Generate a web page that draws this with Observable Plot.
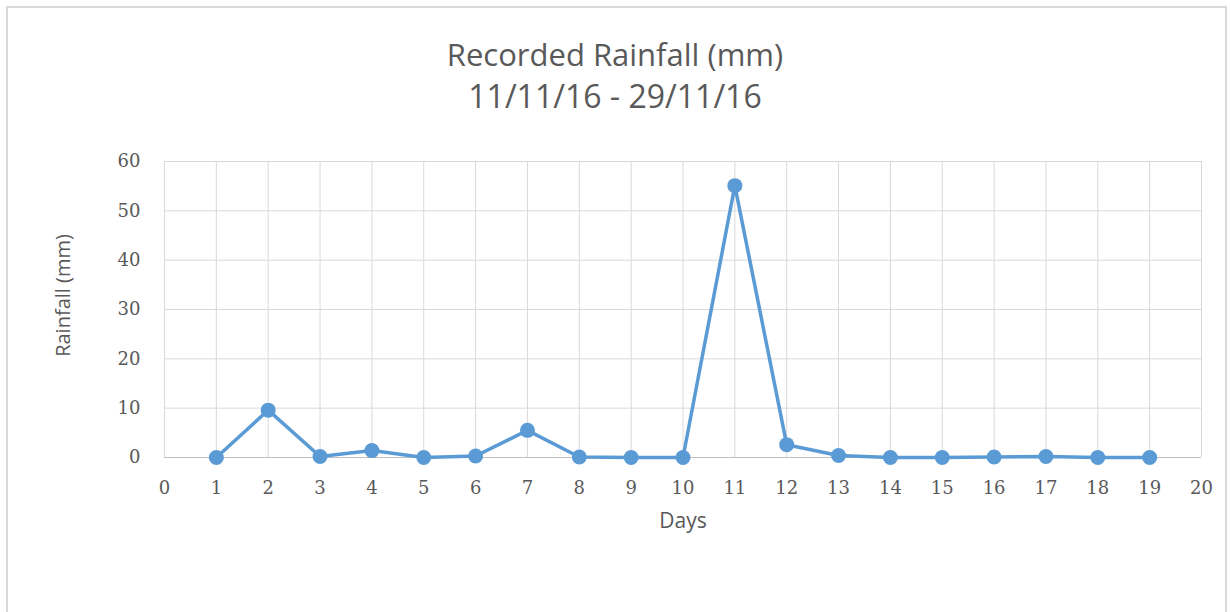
<!DOCTYPE html>
<html><head><meta charset="utf-8">
<script src="https://cdn.jsdelivr.net/npm/d3@7"></script>
<script src="https://cdn.jsdelivr.net/npm/@observablehq/plot@0.6"></script>
<style>
body{margin:0;background:#fff;}
#wrap{position:relative;width:1230px;height:612px;overflow:hidden;}
#border{position:absolute;left:6px;top:6px;width:1221px;height:640px;border:2px solid #d9d9d9;box-sizing:border-box;}
.tl{position:absolute;left:0;width:1230px;text-align:center;font-family:"Open Sans";color:#595959;line-height:41px;white-space:nowrap;}
#t1{top:34px;font-size:31px;}
#t2{top:75px;font-size:32px;}
#chart{position:absolute;left:0;top:140px;}
</style>
</head><body>
<div id="wrap">
  <div id="border"></div>
  <div id="t1" class="tl"></div>
  <div id="t2" class="tl"></div>
  <div id="chart"></div>
</div>
<script>
const titleLine1 = "Recorded Rainfall (mm)";
const titleLine2 = "11/11/16 - 29/11/16";
const xLabel = "Days";
const yLabel = "Rainfall (mm)";
const days = [1,2,3,4,5,6,7,8,9,10,11,12,13,14,15,16,17,18,19];
const rainfall = [0, 9.6, 0.2, 1.4, 0, 0.3, 5.5, 0.1, 0, 0, 55.1, 2.6, 0.4, 0, 0, 0.1, 0.2, 0, 0];
const xTicks = [0,1,2,3,4,5,6,7,8,9,10,11,12,13,14,15,16,17,18,19,20];
const yTicks = [0,10,20,30,40,50,60];

document.getElementById("t1").textContent = titleLine1;
document.getElementById("t2").textContent = titleLine2;

const data = days.map((d, i) => ({day: d, rain: rainfall[i]}));
const grid = "#d9d9d9";
const blue = "#5b9bd5";
const textCol = "#595959";

const chart = Plot.plot({
  width: 1230,
  height: 472,
  marginTop: 21,
  marginBottom: 155,
  marginLeft: 164,
  marginRight: 29,
  style: {background: "transparent", color: textCol, overflow: "visible"},
  x: {domain: [0, 20], axis: null},
  y: {domain: [0, 60], axis: null},
  marks: [
    Plot.gridX(xTicks, {stroke: grid, strokeOpacity: 1, strokeWidth: 1}),
    Plot.gridY(yTicks, {stroke: grid, strokeOpacity: 1, strokeWidth: 1}),
    Plot.ruleY([0], {stroke: "#bfbfbf", strokeWidth: 1}),
    Plot.axisY(yTicks, {tickSize: 0, tickPadding: 24, fontSize: 18, fontFamily: "DejaVu Serif", fill: textCol, label: null}),
    Plot.axisX(xTicks, {tickSize: 0, tickPadding: 24, fontSize: 18, fontFamily: "DejaVu Serif", fill: textCol, label: null}),
    Plot.line(data, {x: "day", y: "rain", stroke: blue, strokeWidth: 3.5, strokeLinejoin: "round"}),
    Plot.dot(data, {x: "day", y: "rain", r: 7.5, fill: blue, stroke: "none"}),
    Plot.text([xLabel], {frameAnchor: "bottom", dy: 70, fontSize: 21, fontFamily: "Open Sans", fill: textCol}),
    Plot.text([yLabel], {frameAnchor: "left", textAnchor: "middle", dx: -101, dy: -14, rotate: -90, fontSize: 20, fontFamily: "Open Sans", fill: textCol})
  ]
});
document.getElementById("chart").appendChild(chart);
</script>
</body></html>
